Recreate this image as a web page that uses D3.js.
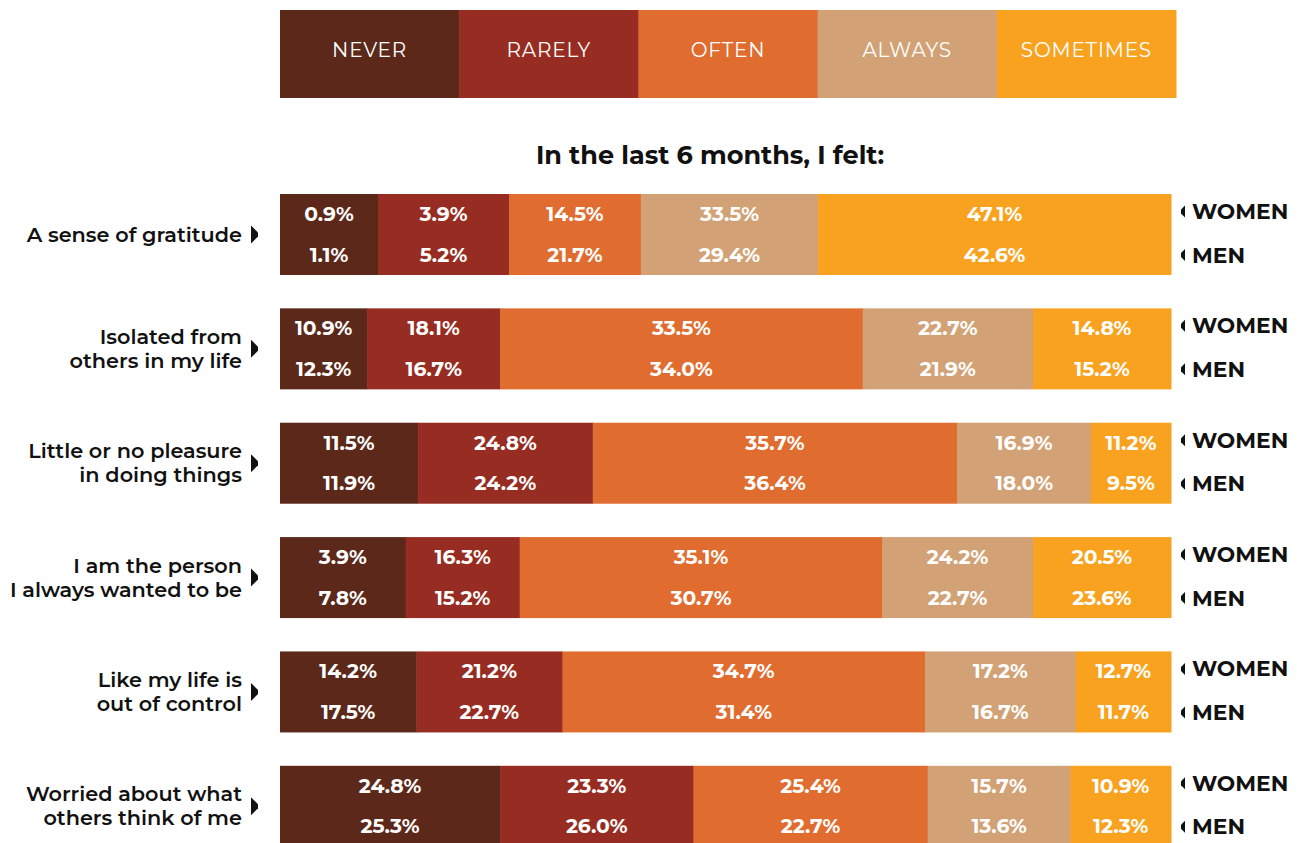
<!DOCTYPE html>
<html>
<head>
<meta charset="utf-8">
<script src="https://cdn.jsdelivr.net/npm/d3@7"></script>
<style>
  body { margin: 0; background: #fff; }
  text { font-family: Montserrat, Inter, "Open Sans", sans-serif; }
</style>
</head>
<body>
<div id="container"></div>
<script>
// answer categories, in bar order
const categories = ["NEVER", "RARELY", "OFTEN", "ALWAYS", "SOMETIMES"];
const colors = ["#5b281a", "#972d22", "#e06c2f", "#d2a276", "#f9a21f"];

// statements (label lines)
const items = [
  ["A sense of gratitude"],
  ["Isolated from", "others in my life"],
  ["Little or no pleasure", "in doing things"],
  ["I am the person", "I always wanted to be"],
  ["Like my life is", "out of control"],
  ["Worried about what", "others think of me"]
];

// percentages per category
const women = [
  [0.9, 3.9, 14.5, 33.5, 47.1],
  [10.9, 18.1, 33.5, 22.7, 14.8],
  [11.5, 24.8, 35.7, 16.9, 11.2],
  [3.9, 16.3, 35.1, 24.2, 20.5],
  [14.2, 21.2, 34.7, 17.2, 12.7],
  [24.8, 23.3, 25.4, 15.7, 10.9]
];
const men = [
  [1.1, 5.2, 21.7, 29.4, 42.6],
  [12.3, 16.7, 34.0, 21.9, 15.2],
  [11.9, 24.2, 36.4, 18.0, 9.5],
  [7.8, 15.2, 30.7, 22.7, 23.6],
  [17.5, 22.7, 31.4, 16.7, 11.7],
  [25.3, 26.0, 22.7, 13.6, 12.3]
];

// segment widths as drawn in the original (share of bar, %)
const barShare = [
  [11.0, 14.7, 14.8, 19.9, 39.6],
  [9.8, 14.9, 40.7, 19.1, 15.5],
  [15.5, 19.6, 40.9, 15.0, 9.0],
  [14.1, 12.8, 40.7, 16.9, 15.5],
  [15.3, 16.4, 40.7, 16.9, 10.7],
  [24.7, 21.7, 26.3, 16.0, 11.3]
];

const groups = ["WOMEN", "MEN"];
const title = "In the last 6 months, I felt:";

const w = 1300, h = 843;
const barH = 81;
const fmt = d => d3.format(".1f")(d) + "%";

const svg = d3.select("#container").append("svg")
  .attr("width", w).attr("height", h);

// legend
const legendX = d3.scaleBand().domain(categories).range([280, 1176]);
const legend = svg.append("g");
legend.selectAll("rect")
  .data(categories).enter().append("rect")
  .attr("x", d => legendX(d))
  .attr("y", 10)
  .attr("width", legendX.bandwidth() + 0.5)
  .attr("height", 88)
  .attr("fill", (d, i) => colors[i]);
legend.selectAll("text")
  .data(categories).enter().append("text")
  .attr("x", d => legendX(d) + legendX.bandwidth() / 2)
  .attr("y", 57)
  .attr("text-anchor", "middle")
  .attr("fill", "#fff")
  .style("font-size", "20px")
  .style("font-weight", 400)
  .style("letter-spacing", "0.8px")
  .text(d => d);

svg.append("text")
  .attr("x", 710).attr("y", 164)
  .attr("text-anchor", "middle")
  .attr("fill", "#111")
  .style("font-size", "25.5px")
  .style("font-weight", 700)
  .text(title);

// bars
const xScale = d3.scaleLinear().domain([0, 100]).range([280, 1171]);
const yScale = d3.scaleBand().domain(d3.range(items.length))
  .range([194, 766 + barH]).paddingInner(0.29).paddingOuter(0);

items.forEach((item, gi) => {
  const g = svg.append("g").attr("transform", "translate(0," + yScale(gi) + ")");
  const ends = d3.cumsum(barShare[gi]);
  const segs = categories.map((c, i) => ({
    x0: i ? ends[i - 1] : 0, x1: ends[i], i: i
  }));

  g.selectAll("rect")
    .data(segs).enter().append("rect")
    .attr("x", d => xScale(d.x0))
    .attr("width", d => xScale(d.x1) - xScale(d.x0) + 0.5)
    .attr("y", 0)
    .attr("height", barH)
    .attr("fill", d => colors[d.i]);

  [women[gi], men[gi]].forEach((vals, ri) => {
    g.selectAll(".v" + ri)
      .data(segs).enter().append("text")
      .attr("class", "v" + ri)
      .attr("x", d => (xScale(d.x0) + xScale(d.x1)) / 2)
      .attr("y", ri ? 67.5 : 27)
      .attr("text-anchor", "middle")
      .attr("fill", "#fff")
      .style("font-size", "20.3px")
      .style("font-weight", 700)
      .text(d => fmt(vals[d.i]));
  });

  // statement label
  const mid = barH / 2;
  const lab = g.append("text")
    .attr("text-anchor", "end")
    .attr("fill", "#111")
    .style("font-size", "20.8px")
    .style("font-weight", 600);
  item.forEach((line, li) => {
    lab.append("tspan")
      .attr("x", 242)
      .attr("y", mid + 7 + (li - (item.length - 1) / 2) * 24)
      .text(line);
  });
  g.append("path")
    .attr("d", "M251," + (mid - 9) + "L258," + (mid - 2) + "L258," + (mid + 2) + "L251," + (mid + 9) + "Z")
    .attr("fill", "#111");

  // women / men tags
  groups.forEach((gr, ri) => {
    const cy = ri ? 61 : 17.5;
    g.append("path")
      .attr("d", "M1185," + (cy - 6) + "L1185," + (cy + 6) + "L1181," + (cy + 2) + "L1181," + (cy - 2) + "Z")
      .attr("fill", "#111");
    g.append("text")
      .attr("x", 1192).attr("y", cy + 7.5)
      .attr("fill", "#111")
      .style("font-size", "21.8px")
      .style("font-weight", 700)
      .text(gr);
  });
});
</script>
</body>
</html>
